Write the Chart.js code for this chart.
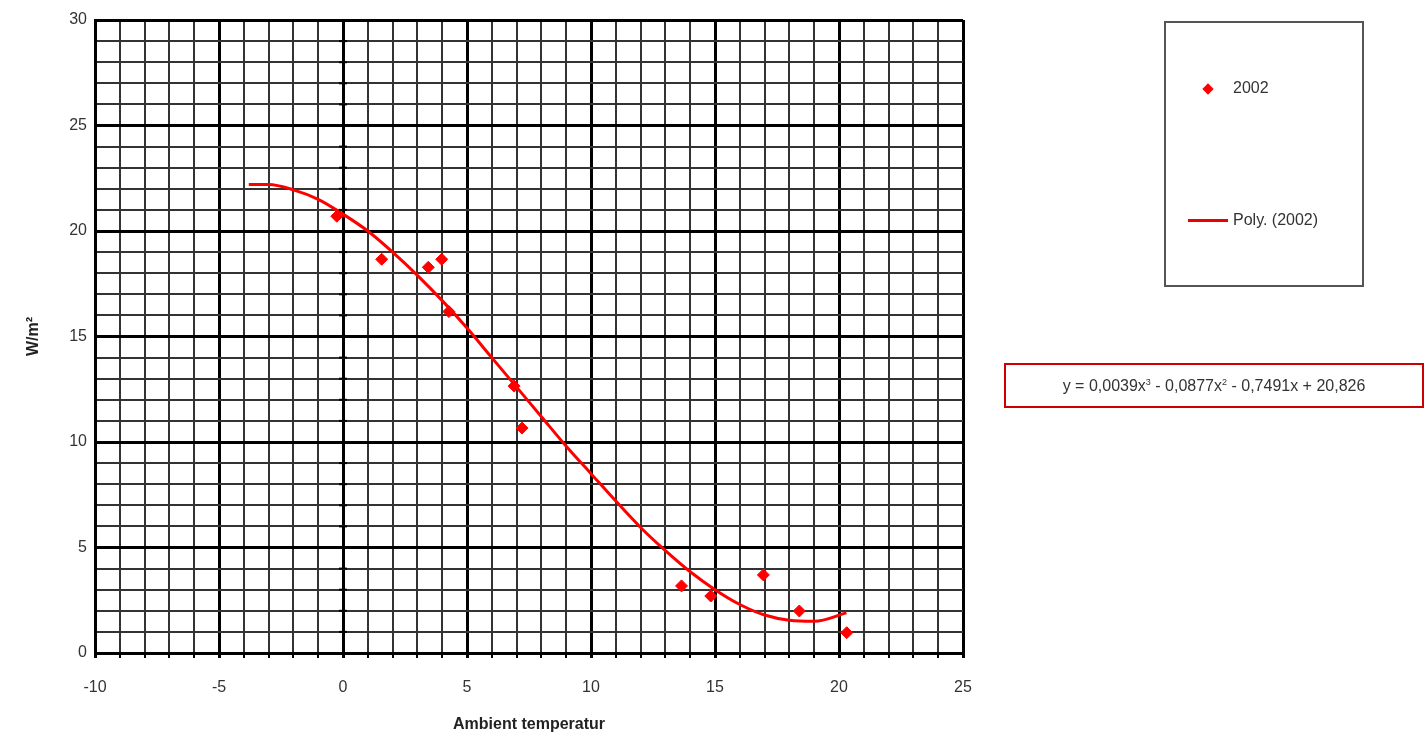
<!DOCTYPE html>
<html lang="en">
<head>
  <meta charset="UTF-8">
  <title>W/m2 vs ambient temperature</title>
  <script src="https://cdn.jsdelivr.net/npm/chart.js"></script>
  <style>
    body { margin: 0; background: #fff; font-family: "Liberation Sans", Arial, sans-serif; }
    #wrap { position: relative; width: 1427px; height: 738px; }
    #legend { position: absolute; left: 1164px; top: 21px; width: 200px; height: 266px; border: 2px solid #555; box-sizing: border-box; }
    .item { position: absolute; font-size: 16px; color: #333; }
    .diamond { position: absolute; width: 8px; height: 8px; background: #f00; transform: rotate(45deg); }
    .line { position: absolute; width: 40px; height: 3px; background: #e00; }
    #eq { position: absolute; left: 1004px; top: 363px; width: 420px; height: 45px; border: 2px solid #c00; box-sizing: border-box; font-size: 16px; color: #333; line-height: 41px; text-align: center; white-space: nowrap; }
    #eq sup { font-size: 9px; line-height: 0; }
  </style>
</head>
<body>
  <div id="wrap">
    <canvas id="chart" width="1427" height="738"></canvas>
    <div id="legend">
      <div class="diamond" style="left:38px; top:62px;"></div>
      <div class="item" style="left:67px; top:56px;">2002</div>
      <div class="line" style="left:22px; top:196px;"></div>
      <div class="item" style="left:67px; top:188px;">Poly. (2002)</div>
    </div>
    <div id="eq">y = 0,0039x<sup>3</sup> - 0,0877x<sup>2</sup> - 0,7491x + 20,826</div>
  </div>

  <script>
    // measured points (2002)
    const tempX = [-0.25, 1.56, 3.44, 3.98, 4.27, 6.9, 7.22, 13.65, 14.83, 16.95, 18.4, 20.31];
    const powerY = [20.7, 18.66, 18.28, 18.66, 16.18, 12.65, 10.66, 3.18, 2.7, 3.7, 1.99, 0.96];

    // trend curve
    const trendX = [-3.8, -3, -2, -1, 0, 1, 2, 3, 4, 5, 6, 7, 8, 9, 10, 11, 12, 13, 14, 15, 16, 17, 18, 19, 20.3];
    const trendY = [22.2, 22.2, 21.95, 21.5, 20.8, 20.0, 19.0, 17.9, 16.7, 15.4, 14.0, 12.6, 11.2, 9.8, 8.5, 7.2, 5.95, 4.85, 3.85, 3.0, 2.3, 1.8, 1.55, 1.5, 1.9];

    const xMajor = [-10, -5, 0, 5, 10, 15, 20, 25];
    const yMajor = [0, 5, 10, 15, 20, 25, 30];

    const toPoints = (xs, ys) => xs.map((x, i) => ({ x: x, y: ys[i] }));

    // little tick marks along the x = 0 line
    const zeroTicks = {
      id: 'zeroTicks',
      afterDatasetsDraw(chart) {
        const ctx = chart.ctx;
        const xs = chart.scales.x, ys = chart.scales.y;
        const px = xs.getPixelForValue(0);
        ctx.save();
        ctx.strokeStyle = '#000';
        ctx.lineWidth = 2;
        for (let v = 0; v <= 30; v++) {
          const py = ys.getPixelForValue(v);
          ctx.beginPath();
          ctx.moveTo(px - 4, py);
          ctx.lineTo(px + 4, py);
          ctx.stroke();
        }
        ctx.restore();
      }
    };

    const gridStyle = (major) => ({
      color: ctx => major.includes(ctx.tick.value) ? '#000' : '#333',
      lineWidth: ctx => major.includes(ctx.tick.value) ? 3 : 2,
      tickLength: 5,
      tickColor: '#000'
    });

    new Chart(document.getElementById('chart'), {
      type: 'scatter',
      data: {
        datasets: [
          {
            label: 'Poly. (2002)',
            data: toPoints(trendX, trendY),
            showLine: true,
            borderColor: '#f00',
            borderWidth: 3,
            pointRadius: 0,
            cubicInterpolationMode: 'monotone',
            order: 2
          },
          {
            label: '2002',
            data: toPoints(tempX, powerY),
            pointStyle: 'rectRot',
            pointRadius: 6,
            backgroundColor: '#f00',
            borderColor: '#f00',
            order: 1
          }
        ]
      },
      options: {
        responsive: false,
        animation: false,
        layout: { padding: { top: 20, right: 464, left: 20, bottom: 0 } },
        plugins: { legend: { display: false }, tooltip: { enabled: false } },
        scales: {
          x: {
            type: 'linear',
            min: -10, max: 25,
            afterFit: s => { s.height = 85; },
            ticks: {
              stepSize: 1,
              autoSkip: false,
              maxRotation: 0,
              color: '#333',
              font: { family: 'Liberation Sans', size: 16 },
              padding: 20,
              callback: v => xMajor.includes(v) ? String(v) : ''
            },
            grid: gridStyle(xMajor),
            border: { display: true, color: '#000', width: 3 },
            title: {
              display: true,
              text: 'Ambient temperatur',
              color: '#222',
              font: { family: 'Liberation Sans', size: 16, weight: 'bold' },
              padding: { top: 0 }
            }
          },
          y: {
            min: 0, max: 30,
            afterFit: s => { s.width = 75; },
            ticks: {
              stepSize: 1,
              autoSkip: false,
              color: '#333',
              font: { family: 'Liberation Sans', size: 16 },
              padding: 8,
              callback: v => yMajor.includes(v) ? String(v) : ''
            },
            grid: Object.assign(gridStyle(yMajor), { tickLength: 0 }),
            border: { display: true, color: '#000', width: 3 },
            title: {
              display: true,
              text: 'W/m²',
              color: '#222',
              font: { family: 'Liberation Sans', size: 16, weight: 'bold' },
              padding: { bottom: 10 }
            }
          }
        }
      },
      plugins: [zeroTicks]
    });
  </script>
</body>
</html>
